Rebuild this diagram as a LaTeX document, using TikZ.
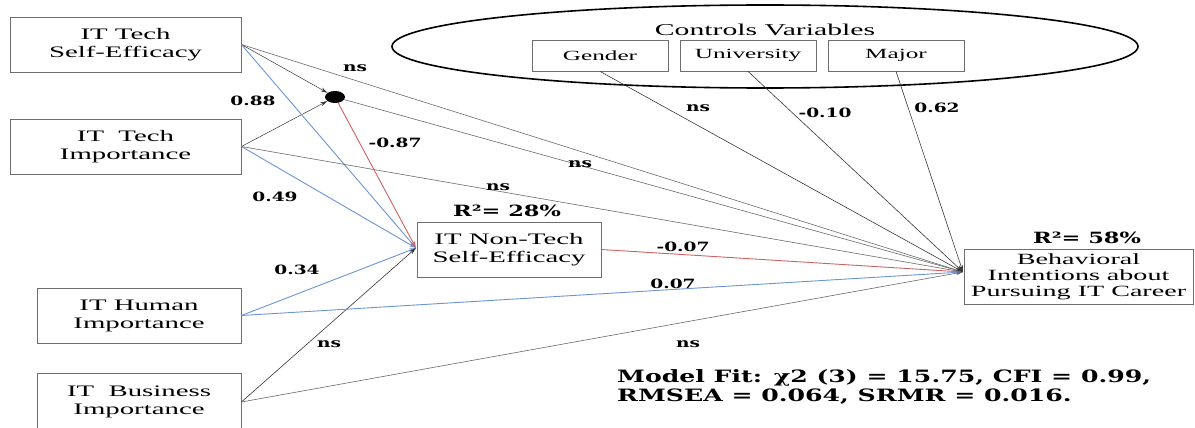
\documentclass[tikz,border=0pt]{standalone}
\usepackage{fontspec}
\usepackage{tikz}
\usetikzlibrary{
  shapes.geometric,
  arrows.meta,
  positioning
}
\newfontfamily\boxfont[FakeStretch=1.8]{Liberation Serif}
\newfontfamily\coeffont[FakeStretch=1.45]{DejaVu Serif}
\newfontfamily\fitfont[FakeStretch=1.48]{DejaVu Serif}
\definecolor{pathgray}{RGB}{105,105,105}
\definecolor{pathdark}{RGB}{55,55,55}
\definecolor{pathblue}{RGB}{108,148,212}
\definecolor{pathred}{RGB}{208,98,98}
\definecolor{boxline}{RGB}{110,110,110}
\tikzset{
varbox/.style={
  draw=boxline,
  line width=0.8pt,
  minimum width=231pt,
  minimum height=55pt,
  inner sep=0pt,
  align=center,
  font=\boxfont\fontsize{16}{18}\selectfont
},
ctrlbox/.style={
  draw=boxline,
  line width=0.8pt,
  minimum width=136pt,
  minimum height=31pt,
  inner sep=0pt,
  font=\boxfont\fontsize{14}{16}\selectfont
},
coef/.style={
  font=\coeffont\bfseries\fontsize{12.8}{14}\selectfont,
  inner sep=0pt
},
rsq/.style={
  font=\coeffont\bfseries\fontsize{15.5}{17}\selectfont,
  inner sep=0pt
},
path/.style={
  -{Stealth[length=7pt,width=4pt]},
  line width=0.6pt,
  draw=pathgray
},
sigblue/.style={
  path,
  draw=pathblue,
  line width=0.9pt
},
sigred/.style={
  path,
  draw=pathred,
  line width=0.9pt
},
tomod/.style={
  path,
  draw=pathdark,
  line width=0.5pt
}
}

\begin{document}
\begin{tikzpicture}[x=1pt,y=-1pt]
  \useasboundingbox (0,0) rectangle (1195,428);

  % predictors
  \node[varbox] (tse) at (125.5,44.5) {IT Tech\\Self-Efficacy};
  \node[varbox] (ti) at (125.5,146.5) {IT\ \ Tech\\Importance};
  \node[varbox, minimum width=204pt] (hi) at (139,315.5) {IT Human\\Importance};
  \node[varbox, minimum width=204pt, minimum height=58pt] (bi) at (139,402) {IT\ \ Business\\Importance};

  % interaction term
  \node[ellipse, fill=black, minimum width=20pt, minimum height=12pt, inner sep=0pt] (dot) at (335,97) {};

  % mediator and outcome
  \node[varbox, minimum width=184pt] (nte) at (509,249.5) {IT Non-Tech\\Self-Efficacy};
  \node[varbox, minimum width=229pt, font=\boxfont\fontsize{15.6}{16}\selectfont] (bip) at (1078.5,276.5) {Behavioral\\Intentions about\\Pursuing IT Career};
  \coordinate (bipin) at (963,272);
  \coordinate (ntein) at (416,248);
  \node[rsq] (r28) at (507,211) {R²= 28\%};
  \node[rsq] (r58) at (1087,238) {R²= 58\%};

  % control variables
  \node[ellipse, draw, line width=1.6pt, minimum width=746pt, minimum height=83pt, inner sep=0pt] (ctrl) at (765,46.5) {};
  \node[font=\boxfont\fontsize{16.5}{18}\selectfont, inner sep=0pt] (ctrltitle) at (765,30) {Controls Variables};
  \node[ctrlbox] (gen) at (600,55.5) {Gender};
  \node[ctrlbox] (uni) at (748,55.5) {University};
  \node[ctrlbox] (maj) at (896,55.5) {Major};

  % paths
  \draw[tomod] (tse.east) -- (dot);
  \draw[tomod] (ti.east) -- (dot);
  \draw[sigblue] (tse.east) -- (ntein);
  \draw[sigblue] (ti.east) -- (ntein);
  \draw[sigred] (dot) -- (ntein);
  \draw[sigblue] (hi.east) -- (ntein);
  \draw[path, draw=pathdark] (bi.east) -- (ntein);
  \draw[path] (tse.east) -- (bipin);
  \draw[path] (dot) -- (bipin);
  \draw[path] (ti.east) -- (bipin);
  \draw[sigred] (nte.east) -- (bipin);
  \draw[sigblue] (hi.east) -- (bipin);
  \draw[path] (bi.east) -- (bipin);
  \draw[path, draw=pathdark] (gen.south) -- (bipin);
  \draw[path, draw=pathdark] (uni.south) -- (bipin);
  \draw[path, draw=pathdark] (maj.south) -- (bipin);

  % coefficients
  \node[coef] (c1) at (355,68) {ns};
  \node[coef] (c2) at (253,101) {0.88};
  \node[coef] (c3) at (395,143) {-0.87};
  \node[coef] (c4) at (580,164) {ns};
  \node[coef] (c5) at (498,187) {ns};
  \node[coef] (c6) at (275,197) {0.49};
  \node[coef] (c7) at (297,270) {0.34};
  \node[coef] (c8) at (683,247) {-0.07};
  \node[coef] (c9) at (673,284) {0.07};
  \node[coef] (c10) at (329,344) {ns};
  \node[coef] (c11) at (688,344) {ns};
  \node[coef] (c12) at (698,108) {ns};
  \node[coef] (c13) at (825,113) {-0.10};
  \node[coef] (c14) at (937,108) {0.62};

  % fit indices
  \node[anchor=north west, align=left, inner sep=0pt, font=\fitfont\bfseries\fontsize{17}{19}\selectfont] (fit) at (617,369) {Model Fit: χ2 (3) = 15.75, CFI = 0.99,\\RMSEA = 0.064, SRMR = 0.016.};
\end{tikzpicture}
\end{document}
